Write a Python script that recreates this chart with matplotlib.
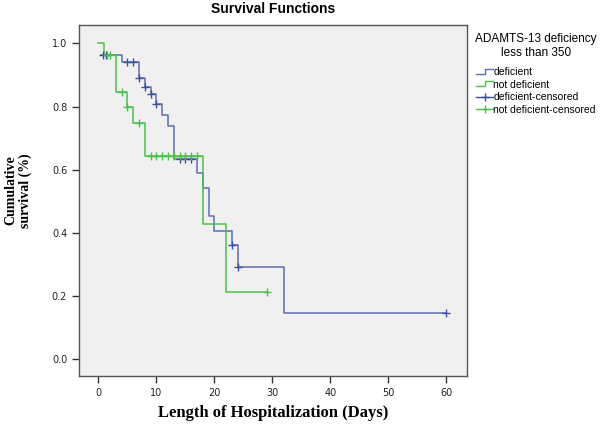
import matplotlib
matplotlib.use("Agg")
import matplotlib.pyplot as plt
from matplotlib.lines import Line2D
from matplotlib.legend_handler import HandlerBase

# Kaplan-Meier steps (days, cumulative survival)
deficient_t = [0.5, 4, 7, 8, 9, 10, 11, 12, 13, 17, 18, 19, 20, 23, 24, 32, 60]
deficient_s = [0.963, 0.94, 0.891, 0.863, 0.84, 0.807, 0.773, 0.739, 0.634,
               0.589, 0.543, 0.453, 0.407, 0.362, 0.291, 0.147, 0.147]
deficient_cens_t = [0.8, 1.3, 5, 6, 7, 8, 9, 10, 14, 15, 16, 23, 24, 60]

notdef_t = [0, 1, 3, 5, 6, 8, 18, 22, 29]
notdef_s = [1.0, 0.963, 0.847, 0.799, 0.747, 0.643, 0.428, 0.214, 0.214]
notdef_cens_t = [1.5, 2, 4, 5, 7, 9, 10, 11, 12, 13, 14, 15, 16, 17, 29]

legend_labels = ["deficient", "not deficient", "deficient-censored", "not deficient-censored"]
x_ticks = [0, 10, 20, 30, 40, 50, 60]
y_ticks = [0.0, 0.2, 0.4, 0.6, 0.8, 1.0]

BLUE = "#5b6db3"
BLUE_DARK = "#3d4fa0"
GREEN = "#4cc04c"


def step_value(times, surv, t):
    val = surv[0]
    for ti, si in zip(times, surv):
        if ti <= t:
            val = si
    return val


class StepHandler(HandlerBase):
    def create_artists(self, legend, orig_handle, xdescent, ydescent,
                       width, height, fontsize, trans):
        x0, x1 = -xdescent, -xdescent + width
        ylo, yhi = -ydescent + 0.2 * height, -ydescent + 0.9 * height
        xm = x0 + 0.55 * width
        line = Line2D([x0, xm, xm, x1], [ylo, ylo, yhi, yhi],
                      color=orig_handle.get_color(), lw=1.0, transform=trans)
        return [line]


fig = plt.figure(figsize=(6, 4.28), dpi=100)
ax = fig.add_axes([0.1317, 0.1215, 0.6466, 0.82])
ax.set_facecolor("#f0f0f0")

ax.step(deficient_t, deficient_s, where="post", color=BLUE, lw=1.1)
ax.step(notdef_t, notdef_s, where="post", color=GREEN, lw=1.1)
ax.plot(deficient_cens_t, [step_value(deficient_t, deficient_s, t) for t in deficient_cens_t],
        ls="none", marker="+", ms=5.5, mew=1.0, color=BLUE_DARK)
ax.plot(notdef_cens_t, [step_value(notdef_t, notdef_s, t) for t in notdef_cens_t],
        ls="none", marker="+", ms=5.5, mew=1.0, color=GREEN)

ax.set_xlim(-3.33, 63.57)
ax.set_ylim(-0.053, 1.058)
ax.set_xticks(x_ticks)
ax.set_yticks(y_ticks)
ax.set_yticklabels([f"{v:.1f}" for v in y_ticks])
ax.tick_params(direction="out", length=5, width=1, color="#333333",
               labelsize=7, labelcolor="#222222")
for sp in ax.spines.values():
    sp.set_color("#555555")
    sp.set_linewidth(1.0)

ax.set_title("Survival Functions", fontsize=10, fontweight="bold",
             family="Liberation Sans", pad=9)
ax.set_xlabel("Length of Hospitalization (Days)", fontsize=12, fontweight="bold",
              family="Liberation Serif", labelpad=5)
fig.text(0.03, 0.555, "Cumulative\nsurvival (%)", rotation=90, ha="center", va="center",
         fontsize=10, fontweight="bold", family="Liberation Serif", linespacing=1.1)

handles = [Line2D([], [], color=BLUE), Line2D([], [], color=GREEN),
           Line2D([], [], color=BLUE_DARK, marker="+", ms=6, lw=1.0),
           Line2D([], [], color=GREEN, marker="+", ms=6, lw=1.0)]
leg = fig.legend(handles, legend_labels, loc="upper left",
                 bbox_to_anchor=(0.78, 0.94), frameon=False,
                 title="ADAMTS-13 deficiency\nless than 350",
                 prop={"family": "Liberation Sans", "size": 7.5},
                 title_fontproperties={"family": "Liberation Sans", "size": 8.5},
                 handlelength=1.6, handletextpad=0.05, labelspacing=0.25,
                 borderpad=0.2,
                 handler_map={handles[0]: StepHandler(), handles[1]: StepHandler()})
leg.get_title().set_multialignment("center")
leg._legend_box.sep = 6

fig.savefig("out.png", dpi=100)
